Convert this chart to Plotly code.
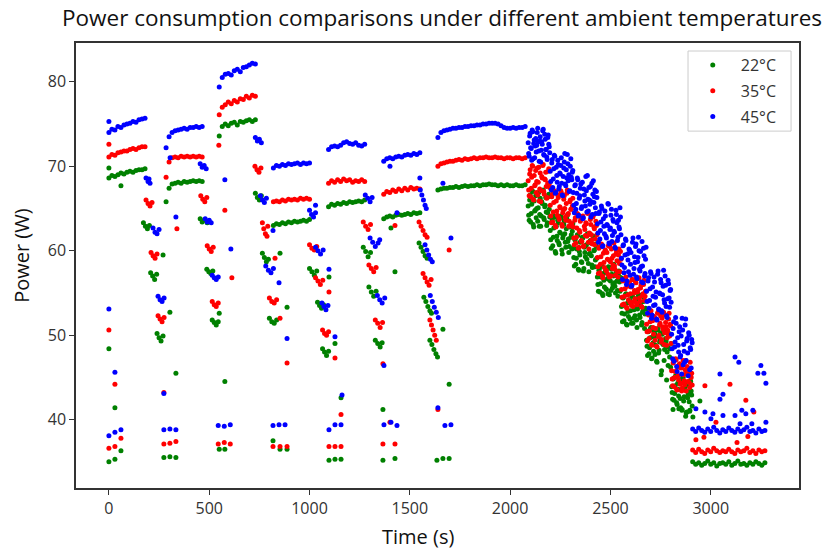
import plotly.graph_objects as go

TITLE = "Power consumption comparisons under different ambient temperatures"
X_LABEL = "Time (s)"
Y_LABEL = "Power (W)"
SERIES = ["22°C", "35°C", "45°C"]
COLORS = ["#008000", "#ff0000", "#0000ff"]
X_TICKS = [0, 500, 1000, 1500, 2000, 2500, 3000]
Y_TICKS = [40, 50, 60, 70, 80]

# steady-state plateaus: readings every PLATEAU_DT seconds from each start time
PLATEAU_DT = 15
PLATEAU_STARTS = [0, 285, 550, 820, 1095, 1370, 1640, 2910]

green_plateaus = [
    [68.6, 68.9, 68.8, 69.0, 69.2, 69.1, 69.3, 69.4, 69.3, 69.5, 69.6, 69.6, 69.7],
    [65.8, 67.4, 67.9, 68.0, 68.1, 68.0, 68.2, 68.1, 68.2, 68.3, 68.2, 68.3, 68.2],
    [73.6, 74.7, 75.0, 74.8, 75.1, 75.2, 74.9, 75.3, 75.2, 75.4, 75.5, 75.3, 75.5],
    [63.0, 63.2, 63.1, 63.3, 63.2, 63.4, 63.3, 63.5, 63.4, 63.5, 63.6, 63.5, 63.7],
    [65.2, 65.5, 65.4, 65.6, 65.5, 65.7, 65.6, 65.8, 65.7, 65.8, 65.9, 65.8, 66.0],
    [63.8, 64.0, 64.1, 64.0, 64.2, 64.3, 64.2, 64.3, 64.4, 64.3, 64.5, 64.4, 64.5],
    [67.2, 67.3, 67.4, 67.4, 67.5, 67.5, 67.6, 67.5, 67.6, 67.7, 67.6, 67.7, 67.7, 67.8, 67.7,
     67.8, 67.8, 67.9, 67.8, 67.8, 67.7, 67.8, 67.7, 67.8, 67.7, 67.7, 67.8, 67.7, 67.7, 67.8],
    [35.0, 34.7, 34.9, 34.6, 34.8, 35.1, 34.7, 34.9, 34.5, 34.8, 34.9, 34.7, 35.0, 34.6, 34.8,
     35.1, 34.7, 34.8, 34.6, 34.9, 34.7, 35.0, 34.8, 34.6, 34.9],
]
red_plateaus = [
    [71.1, 71.4, 71.3, 71.6, 71.7, 71.8, 71.8, 72.0, 72.1, 72.0, 72.2, 72.3, 72.3],
    [68.7, 70.5, 71.0, 71.1, 71.0, 71.2, 71.1, 71.2, 71.1, 71.2, 71.1, 71.2, 71.1],
    [76.1, 77.0, 77.3, 77.6, 77.4, 77.8, 77.6, 78.0, 77.9, 78.3, 78.1, 78.4, 78.3],
    [65.8, 65.9, 65.8, 66.0, 65.9, 66.1, 66.0, 66.1, 66.0, 66.2, 66.1, 66.2, 66.1],
    [68.0, 68.3, 68.1, 68.4, 68.2, 68.5, 68.3, 68.4, 68.1, 68.3, 68.2, 68.4, 68.2],
    [66.7, 67.0, 66.9, 67.2, 67.0, 67.3, 67.1, 67.4, 67.2, 67.5, 67.3, 67.4, 67.3],
    [70.0, 70.3, 70.4, 70.5, 70.6, 70.6, 70.7, 70.8, 70.7, 70.9, 70.8, 70.9, 71.0, 70.9, 71.0,
     71.0, 71.1, 71.0, 71.0, 71.1, 71.0, 71.0, 70.9, 71.0, 71.0, 70.9, 71.0, 71.0, 70.9, 71.0],
    [36.4, 36.1, 36.5, 36.2, 36.0, 36.4, 36.2, 36.6, 36.3, 36.1, 36.3, 36.2, 36.5, 36.2, 36.0,
     36.4, 36.2, 36.3, 36.6, 36.1, 36.3, 36.0, 36.4, 36.2, 36.3],
]
blue_plateaus = [
    [74.0, 74.4, 74.3, 74.7, 74.6, 74.9, 75.0, 75.1, 75.3, 75.2, 75.5, 75.6, 75.7],
    [72.2, 73.5, 74.0, 74.2, 74.3, 74.4, 74.5, 74.4, 74.6, 74.6, 74.7, 74.6, 74.7],
    [79.4, 80.5, 80.9, 81.0, 80.8, 81.3, 81.5, 81.2, 81.7, 81.8, 82.0, 82.2, 82.1],
    [69.8, 70.1, 70.0, 70.2, 70.1, 70.3, 70.2, 70.3, 70.4, 70.2, 70.4, 70.3, 70.4],
    [72.0, 72.3, 72.4, 72.3, 72.5, 72.8, 72.9, 72.7, 72.6, 72.8, 72.5, 72.4, 72.6],
    [70.6, 70.9, 71.0, 70.9, 71.1, 71.2, 71.1, 71.3, 71.4, 71.3, 71.5, 71.4, 71.6],
    [73.4, 74.0, 74.2, 74.3, 74.4, 74.5, 74.5, 74.6, 74.6, 74.7, 74.7, 74.8, 74.8, 74.9, 74.9,
     75.0, 75.0, 75.1, 75.1, 75.1, 75.0, 74.8, 74.6, 74.5, 74.5, 74.6, 74.5, 74.6, 74.6, 74.7],
    [38.9, 38.6, 39.0, 38.7, 38.5, 38.9, 38.6, 39.1, 38.7, 38.4, 38.8, 38.6, 39.0, 38.7, 38.5,
     38.9, 38.6, 38.8, 39.1, 38.6, 38.7, 38.4, 38.9, 38.6, 38.7],
]

# declining (noisy) phase: two interleaved reading sets, each every DECLINE_DT s
DECLINE_T0 = [2090, 2092.5]
DECLINE_DT = 5
green_decline = [
    [65.3, 63.6, 66.6, 64.4, 67.1, 63.1, 65.9, 64.8, 63.9, 66.8, 65.1, 62.9, 66.2, 64.1, 65.6, 67.2, 63.7, 65.4, 64.6, 63.3, 66.4, 64.9,
     62.4, 60.3, 63.7, 61.6, 64.1, 59.9, 62.9, 61.2, 63.3, 60.7, 62.1, 63.9, 59.6, 61.8, 63.5, 61.0, 62.6, 64.2, 61.4, 60.5, 63.0, 61.9, 62.3,
     60.3, 58.2, 61.4, 59.1, 61.9, 57.8, 59.9, 61.0, 58.7, 61.6, 57.6, 60.4, 59.3, 60.7, 62.0, 58.5, 59.6, 61.2, 59.4, 58.0, 61.7, 60.1, 58.9, 60.5,
     56.9, 55.2, 57.9, 56.1, 58.3, 54.9, 57.3, 55.7, 57.6, 55.4, 56.7, 58.1, 54.8, 56.4, 57.8, 55.6, 57.0, 56.2, 55.0, 57.5, 55.3, 57.1, 56.3, 56.8,
     53.4, 51.6, 54.5, 52.5, 54.8, 51.3, 53.8, 52.2, 54.2, 52.9, 51.4, 54.6, 52.0, 53.3, 54.3, 51.8, 53.1, 54.7, 52.4, 53.6, 51.2, 52.7, 54.0, 50.8, 53.2,
     49.4, 47.6, 50.5, 48.5, 50.8, 47.2, 49.8, 48.1, 50.2, 48.8, 46.9, 50.6, 47.9, 49.2, 50.3, 45.8, 49.0, 50.7, 48.3, 49.6, 44.7, 48.6, 49.9, 47.4, 46.2,
     43.9, 42.4, 44.9, 43.1, 45.2, 42.0, 44.3, 42.8, 44.6, 41.4, 43.5, 45.0, 42.2, 43.7, 40.4, 44.1, 42.6, 43.3, 41.0, 44.5, 42.9],
    [64.2, 66.0, 63.4, 65.5, 67.0, 62.8, 64.7, 66.5, 65.0, 63.5, 66.9, 64.3, 62.9, 65.8, 67.1, 63.9, 65.2, 66.3, 63.0, 64.5, 66.7, 64.0,
     61.3, 63.4, 60.6, 62.7, 64.0, 59.7, 61.7, 63.6, 60.9, 62.2, 64.1, 60.1, 61.5, 63.1, 62.0, 60.4, 63.8, 61.1, 59.8, 62.8, 61.6, 60.2, 63.2,
     59.2, 61.3, 58.4, 60.2, 61.8, 57.7, 59.5, 61.1, 58.6, 61.5, 57.9, 59.8, 60.6, 59.0, 61.9, 57.5, 59.7, 60.9, 58.3, 61.4, 60.0, 58.1, 60.8, 59.1,
     56.0, 57.7, 55.1, 56.9, 58.2, 54.7, 56.5, 57.4, 55.5, 57.9, 54.9, 56.6, 58.0, 55.3, 57.2, 56.0, 58.4, 55.8, 57.1, 56.4, 54.6, 57.6, 55.2, 56.8,
     52.6, 54.4, 51.7, 53.5, 54.9, 51.2, 52.8, 54.1, 51.9, 53.7, 54.6, 51.4, 53.0, 52.3, 54.2, 50.9, 53.4, 54.8, 52.1, 53.9, 51.5, 52.9, 54.5, 52.5, 53.1,
     48.7, 50.4, 47.8, 49.7, 50.9, 47.3, 49.1, 50.5, 47.7, 49.9, 46.8, 50.8, 48.2, 49.5, 45.3, 50.1, 48.9, 47.0, 50.6, 49.3, 48.0, 46.4, 50.2, 48.4, 49.0,
     43.2, 44.8, 42.3, 44.0, 45.1, 41.8, 43.6, 44.7, 42.5, 44.4, 41.2, 45.0, 42.7, 43.9, 40.8, 44.2, 43.0, 42.1, 44.6, 43.4, 41.6],
]
red_decline = [
    [68.3, 66.5, 69.6, 67.4, 70.1, 66.1, 68.9, 67.8, 66.9, 69.8, 68.1, 65.9, 69.2, 67.1, 68.6, 70.2, 66.7, 68.4, 67.6, 66.3, 69.4, 67.9,
     65.4, 63.3, 66.7, 64.6, 67.1, 63.0, 65.9, 64.2, 66.3, 63.7, 65.1, 66.9, 62.9, 64.8, 66.5, 64.0, 65.6, 67.2, 64.4, 63.5, 66.0, 64.9, 65.3,
     62.8, 60.7, 63.9, 61.6, 64.4, 60.3, 62.4, 63.5, 61.2, 64.0, 60.5, 62.9, 61.8, 63.2, 64.5, 61.0, 62.1, 63.7, 61.9, 60.8, 64.2, 62.6, 61.4, 63.0,
     59.2, 57.3, 60.4, 58.4, 60.8, 57.0, 59.7, 58.0, 60.1, 57.6, 59.0, 60.6, 56.9, 58.7, 60.2, 57.9, 59.4, 58.2, 57.1, 60.0, 57.5, 59.5, 58.5, 59.9,
     55.4, 53.6, 56.5, 54.6, 56.8, 53.3, 55.8, 54.2, 56.2, 54.9, 53.5, 56.6, 54.0, 55.3, 56.3, 53.8, 55.1, 56.7, 54.4, 55.6, 53.4, 54.7, 56.0, 54.1, 55.2,
     51.3, 49.3, 52.4, 50.5, 52.8, 48.9, 51.7, 50.1, 52.1, 50.8, 48.7, 52.6, 49.8, 51.2, 52.3, 49.5, 51.0, 52.7, 50.3, 51.5, 48.8, 50.6, 51.9, 49.9, 51.1,
     45.8, 44.0, 46.9, 45.0, 47.2, 43.6, 46.2, 44.7, 46.6, 44.3, 43.4, 46.4, 45.3, 44.1, 47.0, 45.6, 44.5, 46.0, 43.8, 45.1, 45.5],
    [67.2, 69.1, 66.4, 68.7, 70.0, 66.0, 67.7, 69.5, 68.2, 66.6, 69.9, 67.3, 65.8, 68.8, 70.1, 67.0, 68.5, 69.3, 66.2, 68.0, 69.7, 67.5,
     64.1, 66.4, 63.4, 65.7, 67.0, 62.8, 64.7, 66.6, 63.9, 65.2, 67.1, 63.1, 64.5, 66.1, 65.0, 63.6, 66.8, 64.3, 62.9, 65.8, 64.9, 63.2, 66.2,
     61.5, 63.6, 60.9, 62.7, 64.3, 60.4, 62.2, 63.8, 61.1, 64.1, 60.6, 62.5, 63.3, 61.7, 64.4, 60.2, 62.0, 63.1, 61.3, 64.0, 62.8, 60.7, 63.5, 61.9,
     58.1, 60.3, 57.4, 59.3, 60.7, 56.8, 58.6, 60.0, 57.7, 59.8, 57.2, 58.9, 60.5, 57.0, 59.1, 58.3, 60.9, 57.8, 59.6, 58.8, 56.9, 60.2, 57.5, 59.0,
     54.5, 56.4, 53.7, 55.5, 56.9, 53.2, 54.8, 56.1, 53.9, 55.7, 56.6, 53.4, 55.0, 54.3, 56.2, 53.6, 55.4, 56.8, 54.0, 55.9, 53.3, 54.9, 56.5, 54.6, 55.2,
     50.4, 52.5, 49.6, 51.6, 52.9, 48.8, 50.9, 52.2, 49.4, 51.8, 48.6, 52.7, 50.0, 51.4, 49.2, 52.0, 50.7, 48.9, 52.4, 51.0, 49.7, 50.2, 52.6, 51.3, 49.0,
     44.8, 46.7, 43.9, 45.7, 47.1, 43.5, 45.2, 46.5, 44.2, 46.1, 43.7, 47.0, 44.6, 45.9, 43.4, 46.3, 45.4, 44.4, 46.8, 45.0, 44.1],
]
blue_decline = [
    [72.8, 71.2, 73.9, 72.1, 74.3, 70.9, 73.1, 72.4, 71.7, 74.0, 72.9, 70.6, 73.5, 71.9, 72.6, 74.4, 71.3, 73.2, 72.0, 70.8, 73.7, 72.3,
     69.4, 67.2, 70.8, 68.5, 71.3, 66.8, 69.9, 68.1, 70.2, 67.6, 69.1, 71.0, 66.6, 68.8, 70.5, 67.9, 69.6, 71.4, 68.3, 67.0, 70.0, 68.7, 69.3,
     66.9, 64.5, 67.8, 65.6, 68.6, 64.1, 66.2, 67.4, 65.0, 68.1, 63.9, 66.6, 65.3, 67.1, 68.9, 64.7, 66.0, 67.6, 65.8, 64.3, 68.3, 66.4, 65.1, 67.0,
     63.2, 61.0, 64.6, 62.4, 65.3, 60.5, 63.8, 62.0, 64.1, 61.5, 63.0, 65.5, 60.8, 62.7, 64.9, 61.8, 63.5, 62.2, 60.3, 64.3, 61.2, 63.6, 62.6, 64.0,
     59.1, 56.6, 60.7, 58.0, 61.4, 56.0, 59.6, 57.5, 60.1, 58.4, 55.8, 61.0, 57.2, 59.3, 60.5, 56.9, 58.7, 61.6, 57.8, 59.9, 56.3, 58.2, 60.3, 57.0, 59.0,
     55.2, 52.6, 56.8, 54.1, 57.5, 52.0, 55.7, 53.5, 56.3, 54.5, 51.9, 57.2, 53.1, 55.0, 56.6, 52.9, 54.8, 57.7, 53.8, 55.9, 52.3, 54.3, 56.1, 53.3, 55.4,
     50.1, 47.2, 51.6, 48.6, 52.1, 46.3, 49.7, 48.0, 51.0, 47.6, 45.4, 50.6, 48.9, 46.8, 51.9, 49.3, 47.9, 50.3, 45.9, 48.3, 49.5],
    [71.5, 73.6, 72.2, 70.7, 74.1, 72.7, 71.0, 73.3, 72.5, 74.5, 71.8, 73.0, 70.5, 72.9, 74.2, 71.4, 73.8, 72.0, 71.1, 73.4, 72.6, 71.6,
     68.2, 70.4, 67.5, 69.7, 71.2, 66.9, 68.9, 70.7, 67.3, 69.2, 70.1, 68.0, 66.5, 69.8, 71.5, 67.7, 68.6, 70.3, 69.0, 67.1, 70.9, 68.4, 69.5,
     65.4, 67.7, 64.9, 66.8, 68.4, 64.2, 66.5, 67.9, 65.2, 63.8, 67.3, 65.9, 68.8, 64.6, 66.1, 67.5, 65.5, 64.0, 68.0, 66.7, 65.7, 67.2, 64.4, 66.3,
     62.1, 64.4, 61.4, 63.4, 65.0, 60.6, 62.9, 64.7, 61.7, 63.1, 65.6, 60.9, 62.5, 64.2, 61.1, 63.7, 62.3, 60.4, 64.8, 63.3, 61.6, 62.8, 65.1, 61.9,
     58.3, 60.6, 57.4, 59.5, 61.2, 56.4, 58.9, 60.2, 57.1, 59.8, 55.9, 61.5, 57.9, 58.6, 60.8, 56.7, 59.2, 60.0, 57.6, 58.1, 61.1, 56.2, 59.4, 57.3, 60.4,
     54.0, 56.4, 53.2, 55.5, 57.3, 52.4, 54.6, 56.9, 53.6, 55.1, 51.8, 57.6, 53.0, 54.9, 56.2, 52.7, 55.8, 54.2, 57.0, 53.4, 52.1, 56.5, 54.4, 55.3, 53.9,
     48.4, 50.8, 46.9, 49.2, 51.4, 45.7, 48.8, 50.4, 47.4, 49.9, 52.0, 46.5, 48.1, 51.2, 47.0, 49.6, 45.2, 50.0, 48.5, 46.1, 49.1],
]

# transitions between load levels, idle readings and outliers: (time s, power W)
green_events = [
    (0, 69.8), (60, 67.7), (0, 48.4), (30, 41.4), (0, 35.0), (30, 35.3), (60, 36.3),
    (172, 63.3), (182, 62.9), (192, 62.6), (202, 63.0), (208, 57.4), (218, 57.0), (228, 56.6), (238, 57.2),
    (240, 50.2), (250, 49.7), (260, 49.3), (270, 49.9), (270, 59.5), (304, 52.7), (334, 45.5),
    (274, 35.5), (304, 35.6), (334, 35.5),
    (455, 63.8), (465, 63.4), (475, 63.6), (490, 63.3), (488, 57.8), (498, 57.5), (508, 57.3), (518, 57.6),
    (515, 51.8), (525, 51.5), (535, 51.2), (545, 51.6), (550, 52.6), (578, 44.5), (550, 36.5), (578, 36.5),
    (730, 66.8), (740, 66.3), (750, 66.0), (760, 66.5), (765, 59.7), (775, 59.2), (785, 58.7), (795, 59.0),
    (800, 52.0), (812, 51.6), (824, 51.4), (836, 51.8), (853, 59.7), (888, 53.3), (818, 37.5), (853, 36.5), (888, 36.5),
    (1000, 57.9), (1012, 57.5), (1024, 57.1), (1036, 57.6), (1040, 53.9), (1050, 53.5), (1060, 53.2), (1070, 53.6),
    (1065, 48.4), (1075, 48.0), (1085, 47.6), (1095, 48.1), (1097, 56.9), (1127, 49.0), (1157, 42.6),
    (1097, 35.2), (1127, 35.3), (1157, 35.3),
    (1268, 60.4), (1280, 59.9), (1292, 59.3), (1304, 59.8), (1296, 55.7), (1308, 55.1), (1320, 54.6), (1332, 55.2),
    (1328, 49.4), (1340, 49.0), (1352, 48.6), (1362, 49.1), (1426, 57.5), (1406, 62.7), (1366, 41.2),
    (1366, 35.2), (1426, 35.4),
    (1546, 60.9), (1556, 60.4), (1566, 59.9), (1576, 59.4), (1586, 59.1), (1570, 54.5), (1580, 54.0), (1590, 53.4),
    (1600, 52.9), (1608, 52.6), (1600, 49.4), (1610, 48.9), (1620, 48.3), (1630, 47.8), (1638, 47.4),
    (1665, 50.7), (1696, 44.2), (1635, 35.2), (1665, 35.4), (1696, 35.4),
    (2946, 42.2), (2896, 41.1), (2911, 40.3), (2856, 41.1), (2881, 40.9), (2812, 41.2), (2841, 41.3),
]
red_events = [
    (0, 72.6), (0, 50.6), (30, 44.2), (0, 36.6), (30, 36.8), (60, 37.8),
    (185, 66.0), (195, 65.6), (205, 65.3), (215, 65.7), (210, 59.8), (220, 59.4), (230, 59.1), (240, 59.6),
    (245, 52.3), (255, 51.9), (265, 51.6), (275, 52.1), (274, 43.2), (339, 62.6), (274, 37.1), (304, 37.2), (334, 37.4),
    (458, 66.5), (468, 66.1), (478, 65.8), (488, 66.3), (490, 60.6), (500, 60.2), (510, 59.9), (520, 60.4),
    (515, 54.0), (525, 53.6), (535, 53.4), (545, 53.8), (578, 64.8), (613, 56.8), (548, 72.5),
    (545, 37.1), (575, 37.3), (605, 37.1),
    (728, 70.0), (738, 69.6), (748, 69.3), (758, 69.8), (765, 63.3), (772, 62.6), (780, 62.0), (788, 61.7), (792, 62.9),
    (800, 54.4), (812, 54.0), (824, 53.8), (836, 54.2), (828, 59.1), (853, 52.0), (888, 46.7),
    (818, 36.8), (853, 36.8), (888, 36.8),
    (1000, 60.7), (1012, 60.3), (1024, 60.1), (1036, 60.5), (1030, 56.8), (1042, 56.4), (1054, 56.0), (1066, 56.5),
    (1065, 50.6), (1075, 50.2), (1085, 50.0), (1095, 50.4), (1097, 55.1), (1127, 47.3), (1157, 40.6),
    (1097, 36.8), (1127, 36.8), (1157, 36.8),
    (1268, 63.4), (1280, 62.9), (1292, 62.5), (1304, 63.1), (1296, 58.3), (1308, 57.9), (1320, 57.5), (1332, 58.0),
    (1328, 51.8), (1340, 51.4), (1352, 50.9), (1364, 51.5), (1426, 63.0), (1366, 46.6),
    (1366, 37.1), (1426, 37.1), (1401, 39.7),
    (1546, 63.4), (1556, 62.9), (1566, 62.4), (1576, 61.9), (1586, 61.6), (1566, 57.3), (1576, 56.8), (1586, 56.3),
    (1596, 55.9), (1606, 56.6), (1600, 51.8), (1608, 51.2), (1616, 50.6), (1624, 50.0), (1632, 49.4),
    (1696, 60.1), (1640, 41.2),
    (2971, 44.0), (3096, 44.2), (3175, 42.3), (3215, 40.9), (3026, 39.7), (2926, 37.6), (3131, 37.3), (3185, 38.0), (2966, 37.9),
]
blue_events = [
    (0, 75.3), (0, 53.1), (30, 45.6), (0, 38.1), (30, 38.5), (60, 38.8),
    (185, 68.6), (195, 68.2), (205, 68.0), (200, 68.5), (220, 62.7), (230, 62.2), (240, 62.0), (250, 62.5),
    (245, 54.6), (255, 54.2), (265, 54.0), (275, 54.4), (274, 43.1), (305, 71.0), (334, 64.0),
    (274, 38.8), (304, 38.9), (334, 38.8),
    (455, 70.3), (465, 69.9), (475, 70.1), (485, 69.7), (480, 63.8), (490, 63.4), (500, 63.6), (510, 63.3),
    (515, 57.1), (525, 56.8), (535, 56.6), (545, 56.9), (578, 68.4), (608, 60.2), (545, 39.3), (575, 39.2), (605, 39.4),
    (730, 73.4), (740, 73.0), (750, 73.2), (760, 72.8), (755, 66.5), (765, 66.0), (775, 65.7), (785, 66.2),
    (782, 58.2), (795, 57.7), (808, 57.4), (820, 57.9), (818, 62.4), (848, 56.2), (888, 49.6),
    (818, 39.3), (848, 39.4), (878, 39.4),
    (1000, 64.8), (1010, 64.3), (1020, 64.0), (1030, 64.5), (1030, 65.4), (1030, 60.4), (1042, 60.0), (1055, 59.6), (1068, 60.1),
    (1062, 53.8), (1072, 53.4), (1082, 53.0), (1092, 53.5), (1097, 57.8), (1127, 49.8), (1162, 42.9),
    (1097, 38.8), (1127, 39.4), (1157, 39.4),
    (1278, 66.6), (1290, 66.2), (1302, 65.8), (1312, 66.3), (1302, 61.5), (1315, 61.0), (1328, 60.5), (1342, 60.9), (1350, 61.3),
    (1338, 54.7), (1350, 54.2), (1362, 53.8), (1375, 54.4), (1371, 46.4), (1371, 39.4), (1406, 39.7), (1436, 39.3),
    (1401, 70.0), (1436, 64.5),
    (1550, 68.6), (1552, 67.2), (1560, 66.6), (1568, 66.0), (1576, 65.4), (1582, 65.0),
    (1576, 60.7), (1585, 60.1), (1594, 59.5), (1603, 59.0), (1612, 58.7),
    (1602, 54.7), (1612, 54.0), (1622, 53.3), (1632, 52.7), (1642, 52.1),
    (1705, 61.5), (1640, 41.4), (1675, 39.3), (1705, 39.4), (1665, 68.0),
    (3121, 47.4), (3140, 46.8), (3046, 45.4), (3061, 43.0), (3046, 42.4), (3250, 46.4), (3235, 45.5), (3265, 45.5),
    (3275, 44.3), (2926, 41.3), (2971, 40.9), (3011, 40.7), (3061, 40.5), (3121, 40.5), (3155, 41.1), (3175, 40.7),
    (3210, 41.1), (3275, 39.7), (3001, 40.1), (3146, 39.5), (3205, 39.5),
]


def build(plateaus, declines, events):
    xs, ys = [], []
    for start, vals in zip(PLATEAU_STARTS, plateaus):
        xs += [start + k * PLATEAU_DT for k in range(len(vals))]
        ys += vals
    for t0, vals in zip(DECLINE_T0, declines):
        xs += [t0 + k * DECLINE_DT for k in range(len(vals))]
        ys += vals
    xs += [e[0] for e in events]
    ys += [e[1] for e in events]
    return xs, ys


data = [
    build(green_plateaus, green_decline, green_events),
    build(red_plateaus, red_decline, red_events),
    build(blue_plateaus, blue_decline, blue_events),
]

FONT = "Open Sans, DejaVu Sans, sans-serif"
fig = go.Figure()
for (xs, ys), name, color in zip(data, SERIES, COLORS):
    fig.add_trace(go.Scatter(
        x=xs, y=ys, mode="markers", name=name, legendgroup=name,
        marker=dict(size=5, color=color, line=dict(width=0)),
    ))

axis_common = dict(
    showgrid=False, zeroline=False, showline=True, mirror=True,
    linecolor="#333333", linewidth=1.5,
    ticks="outside", ticklen=5, tickwidth=1.2, tickcolor="#333333",
    tickfont=dict(family=FONT, size=16, color="#333333"),
)
fig.update_xaxes(range=[-164, 3440], tickvals=X_TICKS, **axis_common)
fig.update_yaxes(range=[31.9, 84.6], tickvals=Y_TICKS, **axis_common)

fig.update_layout(
    width=827, height=553,
    margin=dict(l=76, r=28, t=43, b=65),
    paper_bgcolor="white", plot_bgcolor="white",
    title=dict(text=TITLE, x=0.5345, xanchor="center", xref="container",
               y=0.967, yanchor="middle", yref="container",
               font=dict(family=FONT, size=22.5, color="#111111")),
    legend=dict(
        x=0.842, y=0.9885, xanchor="left", yanchor="top",
        bgcolor="rgba(0,0,0,0)", borderwidth=0,
        font=dict(family=FONT, size=16, color="#333333"),
        itemwidth=46, traceorder="grouped", tracegroupgap=2,
    ),
    shapes=[dict(type="rect", xref="paper", yref="paper",
                 x0=0.8465, x1=0.989, y0=0.802, y1=0.982,
                 line=dict(color="#cccccc", width=1), fillcolor="white", layer="below")],
    annotations=[
        dict(text=X_LABEL, x=0.473, y=-0.110, xref="paper", yref="paper",
             xanchor="center", yanchor="middle", showarrow=False,
             font=dict(family=FONT, size=20, color="#111111")),
        dict(text=Y_LABEL, x=-0.0747, y=0.524, xref="paper", yref="paper",
             xanchor="center", yanchor="middle", showarrow=False, textangle=-90,
             font=dict(family=FONT, size=20, color="#111111")),
    ],
)

fig.write_html("out.html", config={"displayModeBar": False},
               post_script="document.body.style.margin='0';")
